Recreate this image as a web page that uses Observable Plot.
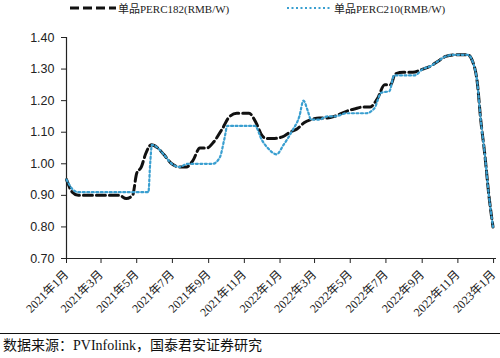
<!DOCTYPE html>
<html><head><meta charset="utf-8">
<script src="https://cdn.jsdelivr.net/npm/d3@7"></script>
<script src="https://cdn.jsdelivr.net/npm/@observablehq/plot@0.6"></script>
<style>
body{margin:0;background:#fff;width:500px;height:358px;overflow:hidden;position:relative;}
#legend{height:18px;position:relative;font-family:"Liberation Serif","Noto Sans CJK SC",serif;font-size:11px;color:#222;}
.item{position:absolute;top:0;height:16px;display:flex;align-items:center;white-space:nowrap;}
#chart{height:310px;}
#footer{position:absolute;left:0;top:333px;width:500px;border-top:1px solid #111;font-family:"Liberation Serif","Noto Sans CJK SC",serif;font-size:14px;color:#111;padding:3px 0 0 3px;box-sizing:border-box;line-height:18px;}
</style></head><body>
<div id="legend">
  <div class="item" style="left:70px"><svg width="46" height="10"><line x1="0" y1="5" x2="46" y2="5" stroke="#111" stroke-width="3" stroke-dasharray="9,4"/></svg><span style="margin-left:2px">单品PERC182(RMB/W)</span></div>
  <div class="item" style="left:287px"><svg width="44" height="10"><line x1="0" y1="5" x2="44" y2="5" stroke="#3a9fd0" stroke-width="2" stroke-dasharray="2,2.5"/></svg><span style="margin-left:3px">单品PERC210(RMB/W)</span></div>
</div>
<div id="chart"></div>
<div id="footer">数据来源：PVInfolink，国泰君安证券研究</div>
<script>
const dates182 = ["2021-01-01","2021-01-11","2021-01-21","2021-03-01","2021-04-01","2021-04-13","2021-04-24","2021-05-01","2021-05-09","2021-05-16","2021-05-26","2021-06-06","2021-06-16","2021-06-30","2021-07-13","2021-07-25","2021-08-05","2021-08-17","2021-08-29","2021-09-10","2021-09-24","2021-10-07","2021-10-19","2021-11-09","2021-11-21","2021-12-01","2021-12-08","2021-12-20","2022-01-05","2022-01-18","2022-01-30","2022-02-11","2022-02-23","2022-03-09","2022-03-23","2022-04-04","2022-04-16","2022-04-30","2022-05-11","2022-05-23","2022-06-04","2022-06-16","2022-06-29","2022-07-09","2022-07-17","2022-07-31","2022-08-16","2022-09-02","2022-09-16","2022-09-28","2022-10-11","2022-10-25","2022-11-06","2022-11-18","2022-11-27","2022-12-04","2022-12-10","2022-12-17","2022-12-24","2022-12-31"];
const values182 = [0.95,0.91,0.90,0.90,0.90,0.89,0.90,0.97,0.99,1.03,1.06,1.05,1.03,1.00,0.99,0.99,1.01,1.05,1.05,1.07,1.11,1.15,1.16,1.16,1.13,1.09,1.08,1.08,1.085,1.10,1.11,1.13,1.14,1.145,1.145,1.15,1.16,1.17,1.175,1.18,1.18,1.205,1.25,1.25,1.285,1.29,1.29,1.30,1.31,1.325,1.34,1.345,1.345,1.345,1.32,1.26,1.14,1.03,0.90,0.80];
const dates210 = ["2021-01-01","2021-01-11","2021-01-21","2021-03-01","2021-04-01","2021-05-01","2021-05-21","2021-05-24","2021-05-27","2021-06-06","2021-06-16","2021-06-30","2021-07-13","2021-07-27","2021-08-15","2021-09-08","2021-09-20","2021-09-28","2021-10-03","2021-10-20","2021-11-19","2021-12-01","2021-12-11","2021-12-26","2022-01-07","2022-01-22","2022-02-03","2022-02-10","2022-02-17","2022-02-23","2022-03-09","2022-03-23","2022-04-04","2022-04-25","2022-05-10","2022-05-28","2022-06-11","2022-06-23","2022-07-07","2022-07-15","2022-08-01","2022-08-19","2022-09-02","2022-09-16","2022-09-28","2022-10-11","2022-10-25","2022-11-06","2022-11-18","2022-11-27","2022-12-04","2022-12-10","2022-12-17","2022-12-24","2022-12-31"];
const values210 = [0.95,0.92,0.91,0.91,0.91,0.91,0.91,1.00,1.06,1.05,1.03,1.00,0.99,1.00,1.00,1.00,1.02,1.08,1.12,1.12,1.12,1.075,1.05,1.03,1.06,1.105,1.15,1.20,1.17,1.14,1.14,1.15,1.15,1.16,1.16,1.16,1.175,1.225,1.23,1.28,1.28,1.28,1.30,1.31,1.325,1.34,1.345,1.345,1.345,1.32,1.26,1.14,1.03,0.90,0.80];
const xTickDates = ["2021-01-01","2021-03-01","2021-05-01","2021-07-01","2021-09-01","2021-11-01","2022-01-01","2022-03-01","2022-05-01","2022-07-01","2022-09-01","2022-11-01","2023-01-01"];
const yTicks = [0.70,0.80,0.90,1.00,1.10,1.20,1.30,1.40];

const parse = d3.utcParse("%Y-%m-%d");
const s182 = dates182.map((d,i)=>({date:parse(d), v:values182[i]}));
const s210 = dates210.map((d,i)=>({date:parse(d), v:values210[i]}));
const xt = xTickDates.map(parse);
const x0 = parse("2021-01-01"), x1 = parse("2023-01-06");

const chart = Plot.plot({
  width: 500,
  height: 310,
  marginLeft: 66,
  marginRight: 4,
  marginTop: 19,
  marginBottom: 70,
  style: {fontFamily: "Liberation Sans, Arial, sans-serif", fontSize: "12px", color: "#222", background: "#fff"},
  x: {type: "utc", domain: [x0, x1]},
  y: {domain: [0.70, 1.40]},
  marks: [
    Plot.axisY({ticks: yTicks, tickFormat: d3.format(".2f"), tickSize: 5, tickPadding: 7, label: null, fontSize: 12.5}),
    Plot.axisX({ticks: xt, tickFormat: d => `${d.getUTCFullYear()}年${d.getUTCMonth()+1}月`, tickRotate: -45, tickSize: 5, tickPadding: 9, label: null, fontSize: 12, fontFamily: "Liberation Serif, Noto Sans CJK SC, serif"}),
    Plot.ruleX([x0], {stroke: "#222", strokeWidth: 1.2}),
    Plot.ruleY([0.70], {stroke: "#222", strokeWidth: 1.2}),
    Plot.line(s182, {x: "date", y: "v", stroke: "#111", strokeWidth: 3, strokeDasharray: "9,4", curve: "monotone-x"}),
    Plot.line(s210, {x: "date", y: "v", stroke: "#3a9fd0", strokeWidth: 2.2, strokeDasharray: "2,2.5", curve: "monotone-x"})
  ]
});
document.getElementById("chart").appendChild(chart);
</script>
</body></html>
